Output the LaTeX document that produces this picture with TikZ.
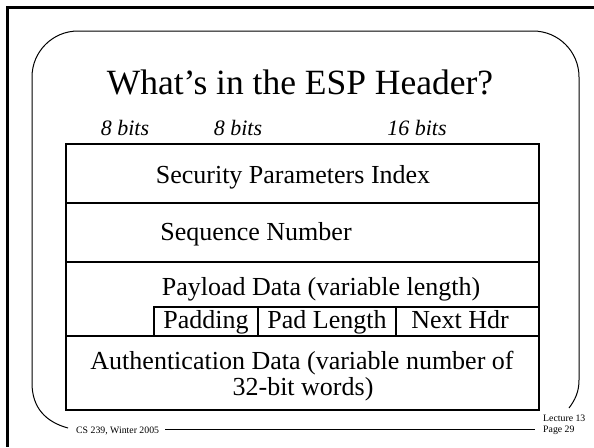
\documentclass[tikz,border=0pt]{standalone}
\usepackage{fontspec}
\setmainfont{Liberation Serif}
\begin{document}
\begin{tikzpicture}[x=1pt,y=-1pt,
  frame/.style={line width=2.6pt,black},
  panel/.style={line width=1pt,black},
  tbl/.style={line width=1.1pt,black},
  lbl/.style={anchor=base,inner sep=0pt,font=\fontsize{26}{30}\selectfont},
  bits/.style={anchor=base,inner sep=0pt,font=\fontsize{22}{26}\selectfont\itshape},
  foot/.style={anchor=base west,inner sep=0pt,font=\fontsize{9.8}{11}\selectfont}]
\useasboundingbox (0,0) rectangle (594,447);
% outer frame (top and left edges)
\draw[frame] (594,7.7) -- (7.7,7.7) -- (7.7,447);
% rounded panel
\draw[panel] (68,428) .. controls (46,422) and (32,408) .. (32,383)
  -- (32,77) arc[start angle=180,end angle=270,radius=46]
  -- (533,31) arc[start angle=270,end angle=360,radius=46]
  -- (579,380) .. controls (579,392) and (575,400) .. (569,408);
\draw[panel] (165,429) -- (535,429);
% title
\node[anchor=base,inner sep=0pt,font=\fontsize{35.5}{42}\selectfont] (title) at (300,94) {What’s in the ESP Header?};
% bit labels
\node[bits] (b1) at (125,135) {8 bits};
\node[bits] (b2) at (238,135) {8 bits};
\node[bits] (b3) at (417,135) {16 bits};
% table
\draw[tbl] (66,144) rectangle (539,410);
\draw[tbl] (66,203) -- (539,203);
\draw[tbl] (66,262) -- (539,262);
\draw[tbl] (66,336) -- (539,336);
\draw[tbl] (154,336) -- (154,307) -- (539,307);
\draw[tbl] (258,307) -- (258,336);
\draw[tbl] (396,307) -- (396,336);
\node[lbl] (spi) at (293,183) {Security Parameters Index};
\node[lbl] (seq) at (256,240) {Sequence Number};
\node[lbl] (pay) at (321,295) {Payload Data (variable length)};
\node[lbl] (pad) at (206,328) {Padding};
\node[lbl] (padl) at (327,328) {Pad Length};
\node[lbl] (nxt) at (460,328) {Next Hdr};
\node[lbl] (auth1) at (302,369) {Authentication Data (variable number of};
\node[lbl] (auth2) at (303,395) {32-bit words)};
% footer
\node[foot] (cs) at (76,433) {CS 239, Winter 2005};
\node[foot] (lec) at (543,421) {Lecture 13};
\node[foot] (pg) at (543,432) {Page 29};
\end{tikzpicture}
\end{document}
